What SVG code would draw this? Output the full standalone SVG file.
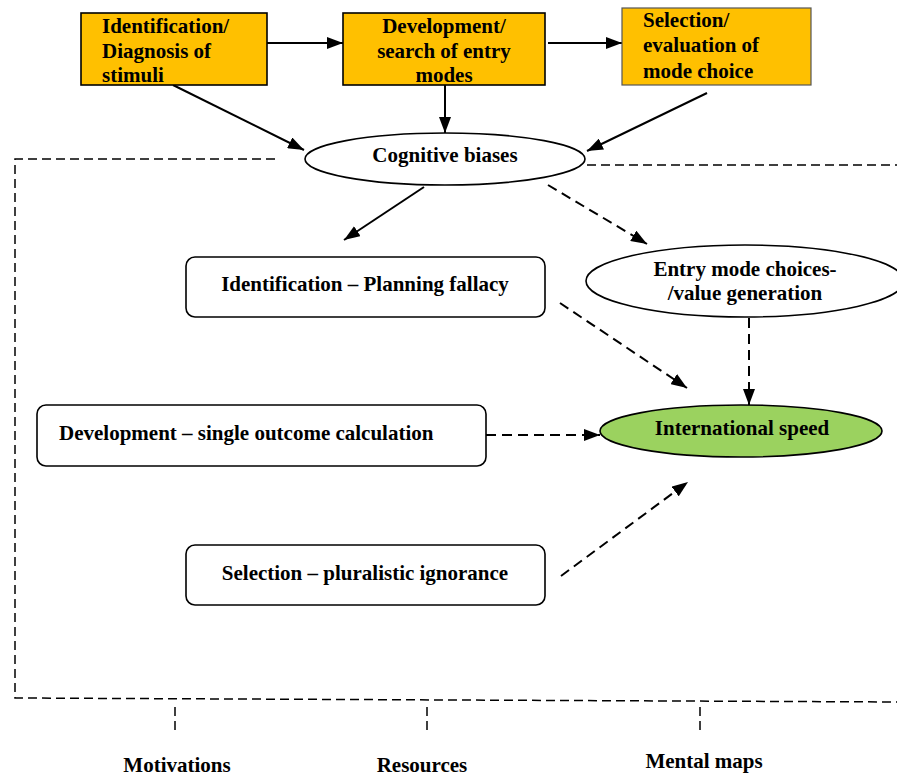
<svg xmlns="http://www.w3.org/2000/svg" width="897" height="776" viewBox="0 0 897 776">
<defs>
<style>
text{font-family:"Liberation Serif","Times New Roman",serif;font-weight:bold;font-size:21px;fill:#000}
.c{text-anchor:middle}
.orange{fill:#FFC000;stroke:#000;stroke-width:1.6}
.rbox{fill:#fff;stroke:#000;stroke-width:1.6}
.ell{fill:#fff;stroke:#000;stroke-width:1.6}
.solid{stroke:#000;stroke-width:2;fill:none}
.dash{stroke:#000;stroke-width:2;fill:none;stroke-dasharray:10 6}
.frame{stroke:#000;stroke-width:1.5;fill:none;stroke-dasharray:9 5}
</style>
<marker id="ah" viewBox="0 0 16 12" refX="16" refY="6" markerWidth="16" markerHeight="12" markerUnits="userSpaceOnUse" orient="auto">
<path d="M0,0 L16,6 L0,12 Z" fill="#000"/>
</marker>
</defs>
<rect width="897" height="776" fill="#fff"/>

<g id="frame">
<path class="frame" d="M275,159 L15,159 L15,698 L897,702"/>
<path class="frame" d="M587,165 L897,165"/>
<path class="frame" d="M175,707 L175,731"/>
<path class="frame" d="M427,707 L427,731"/>
<path class="frame" d="M700,707 L700,731"/>
</g>

<g id="connectors">
<line class="solid" x1="267" y1="43" x2="343" y2="43" marker-end="url(#ah)"/>
<line class="solid" x1="548" y1="43" x2="622" y2="43" marker-end="url(#ah)"/>
<line class="solid" x1="173" y1="85" x2="304" y2="150" marker-end="url(#ah)"/>
<line class="solid" x1="445" y1="85" x2="445" y2="133" marker-end="url(#ah)"/>
<line class="solid" x1="707" y1="93" x2="587" y2="151" marker-end="url(#ah)"/>
<line class="solid" x1="424" y1="187" x2="344" y2="240" marker-end="url(#ah)"/>
<line class="dash" x1="548" y1="185" x2="647" y2="244" marker-end="url(#ah)"/>
<line class="dash" x1="560" y1="303" x2="687" y2="388" marker-end="url(#ah)"/>
<line class="dash" x1="749" y1="318" x2="749" y2="405" marker-end="url(#ah)"/>
<line class="dash" x1="486" y1="435" x2="600" y2="435" marker-end="url(#ah)"/>
<line class="dash" x1="561" y1="576" x2="688" y2="482" marker-end="url(#ah)"/>
</g>

<g id="n-identification">
<rect class="orange" x="81" y="13" width="186" height="72"/>
<text x="102" y="33">Identification/</text>
<text x="102" y="58">Diagnosis of</text>
<text x="102" y="82">stimuli</text>
</g>

<g id="n-development">
<rect class="orange" x="343" y="13" width="202" height="72"/>
<text class="c" x="444" y="33">Development/</text>
<text class="c" x="444" y="58">search of entry</text>
<text class="c" x="444" y="82">modes</text>
</g>

<g id="n-selection">
<rect x="622" y="8" width="189" height="77" fill="#FFC000" stroke="#555" stroke-width="1.2"/>
<text x="643" y="27">Selection/</text>
<text x="643" y="52">evaluation of</text>
<text x="643" y="78">mode choice</text>
</g>

<g id="n-cognitive">
<ellipse class="ell" cx="445" cy="159" rx="140" ry="26"/>
<text class="c" x="445" y="162">Cognitive biases</text>
</g>

<g id="n-planning">
<rect class="rbox" x="186" y="257" width="359" height="60" rx="9"/>
<text class="c" x="365" y="291">Identification – Planning fallacy</text>
</g>

<g id="n-entry">
<ellipse class="ell" cx="745" cy="281" rx="159" ry="36"/>
<text class="c" x="745" y="276">Entry mode choices-</text>
<text class="c" x="745" y="300">/value generation</text>
</g>

<g id="n-single">
<rect class="rbox" x="37" y="405" width="449" height="61" rx="9"/>
<text x="59" y="440">Development – single outcome calculation</text>
</g>

<g id="n-speed">
<ellipse cx="741" cy="431" rx="141" ry="26" fill="#9BD25F" stroke="#000" stroke-width="1.6"/>
<text class="c" x="742" y="435">International speed</text>
</g>

<g id="n-plural">
<rect class="rbox" x="186" y="545" width="359" height="60" rx="9"/>
<text class="c" x="365" y="580">Selection – pluralistic ignorance</text>
</g>

<g id="labels">
<text class="c" x="177" y="772">Motivations</text>
<text class="c" x="422" y="772">Resources</text>
<text class="c" x="704" y="768">Mental maps</text>
</g>
</svg>
